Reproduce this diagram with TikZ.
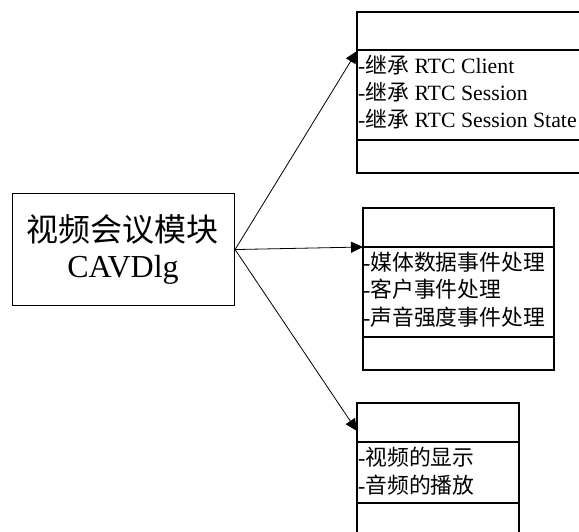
\documentclass[tikz,border=0pt]{standalone}
\usepackage{fontspec}
\setmainfont{Liberation Serif}
\newfontfamily\cjk{Noto Sans CJK SC}
\usetikzlibrary{arrows.meta}
\tikzset{
  part/.style={draw, line width=1.1pt, anchor=north west, inner sep=0pt, outer sep=0pt},
  divider/.style={line width=1.8pt},
  item/.style={anchor=base west, inner sep=0pt, font=\fontsize{21.8}{27}\selectfont},
  link/.style={line width=0.8pt, -{Triangle[length=12pt,width=11pt]}},
}
\begin{document}
\begin{tikzpicture}[x=1pt,y=-1pt]
\useasboundingbox (0,0) rectangle (579,532);

% main module
\node[draw, line width=1.1pt, anchor=north west, minimum width=222pt, minimum height=112pt, inner sep=0pt]
  (main) at (12,193) {};
\node[anchor=base, inner sep=0pt, font=\fontsize{32}{36}\selectfont] (mainA) at (123,242) {\cjk 视频会议模块};
\node[anchor=base, inner sep=0pt, font=\fontsize{32}{36}\selectfont] (mainB) at (123,277) {CAVDlg};

% class box 1 (runs past the right edge)
\draw[line width=1.1pt] (590,12) -- (357,12) -- (357,173) -- (590,173);
\coordinate (b1a) at (357,51);
\draw[divider] (357,50) -- (590,50);
\draw[divider] (357,140) -- (590,140);
\node[item] (b1l1) at (358,74) {-{\cjk 继承} RTC Client};
\node[item] (b1l2) at (358,101) {-{\cjk 继承} RTC Session};
\node[item] (b1l3) at (358,128) {-{\cjk 继承} RTC Session State};

% class box 2
\draw[line width=1.1pt] (363,208) rectangle (554,370);
\coordinate (b2a) at (363,247);
\draw[divider] (363,247) -- (554,247);
\draw[divider] (363,337) -- (554,337);
\node[item] (b2l1) at (363,271) {-{\cjk 媒体数据事件处理}};
\node[item] (b2l2) at (363,298) {-{\cjk 客户事件处理}};
\node[item] (b2l3) at (363,325) {-{\cjk 声音强度事件处理}};

% class box 3 (runs past the bottom edge)
\draw[line width=1.1pt] (357,545) -- (357,403) -- (519,403) -- (519,545);
\coordinate (b3a) at (357,431);
\draw[divider] (357,442) -- (519,442);
\draw[divider] (357,503) -- (519,503);
\node[item] (b3l1) at (358,465) {-{\cjk 视频的显示}};
\node[item] (b3l2) at (358,493) {-{\cjk 音频的播放}};

% connectors
\draw[link] (main.east) -- (b1a);
\draw[link] (main.east) -- (b2a);
\draw[link] (main.east) -- (b3a);
\end{tikzpicture}
\end{document}
